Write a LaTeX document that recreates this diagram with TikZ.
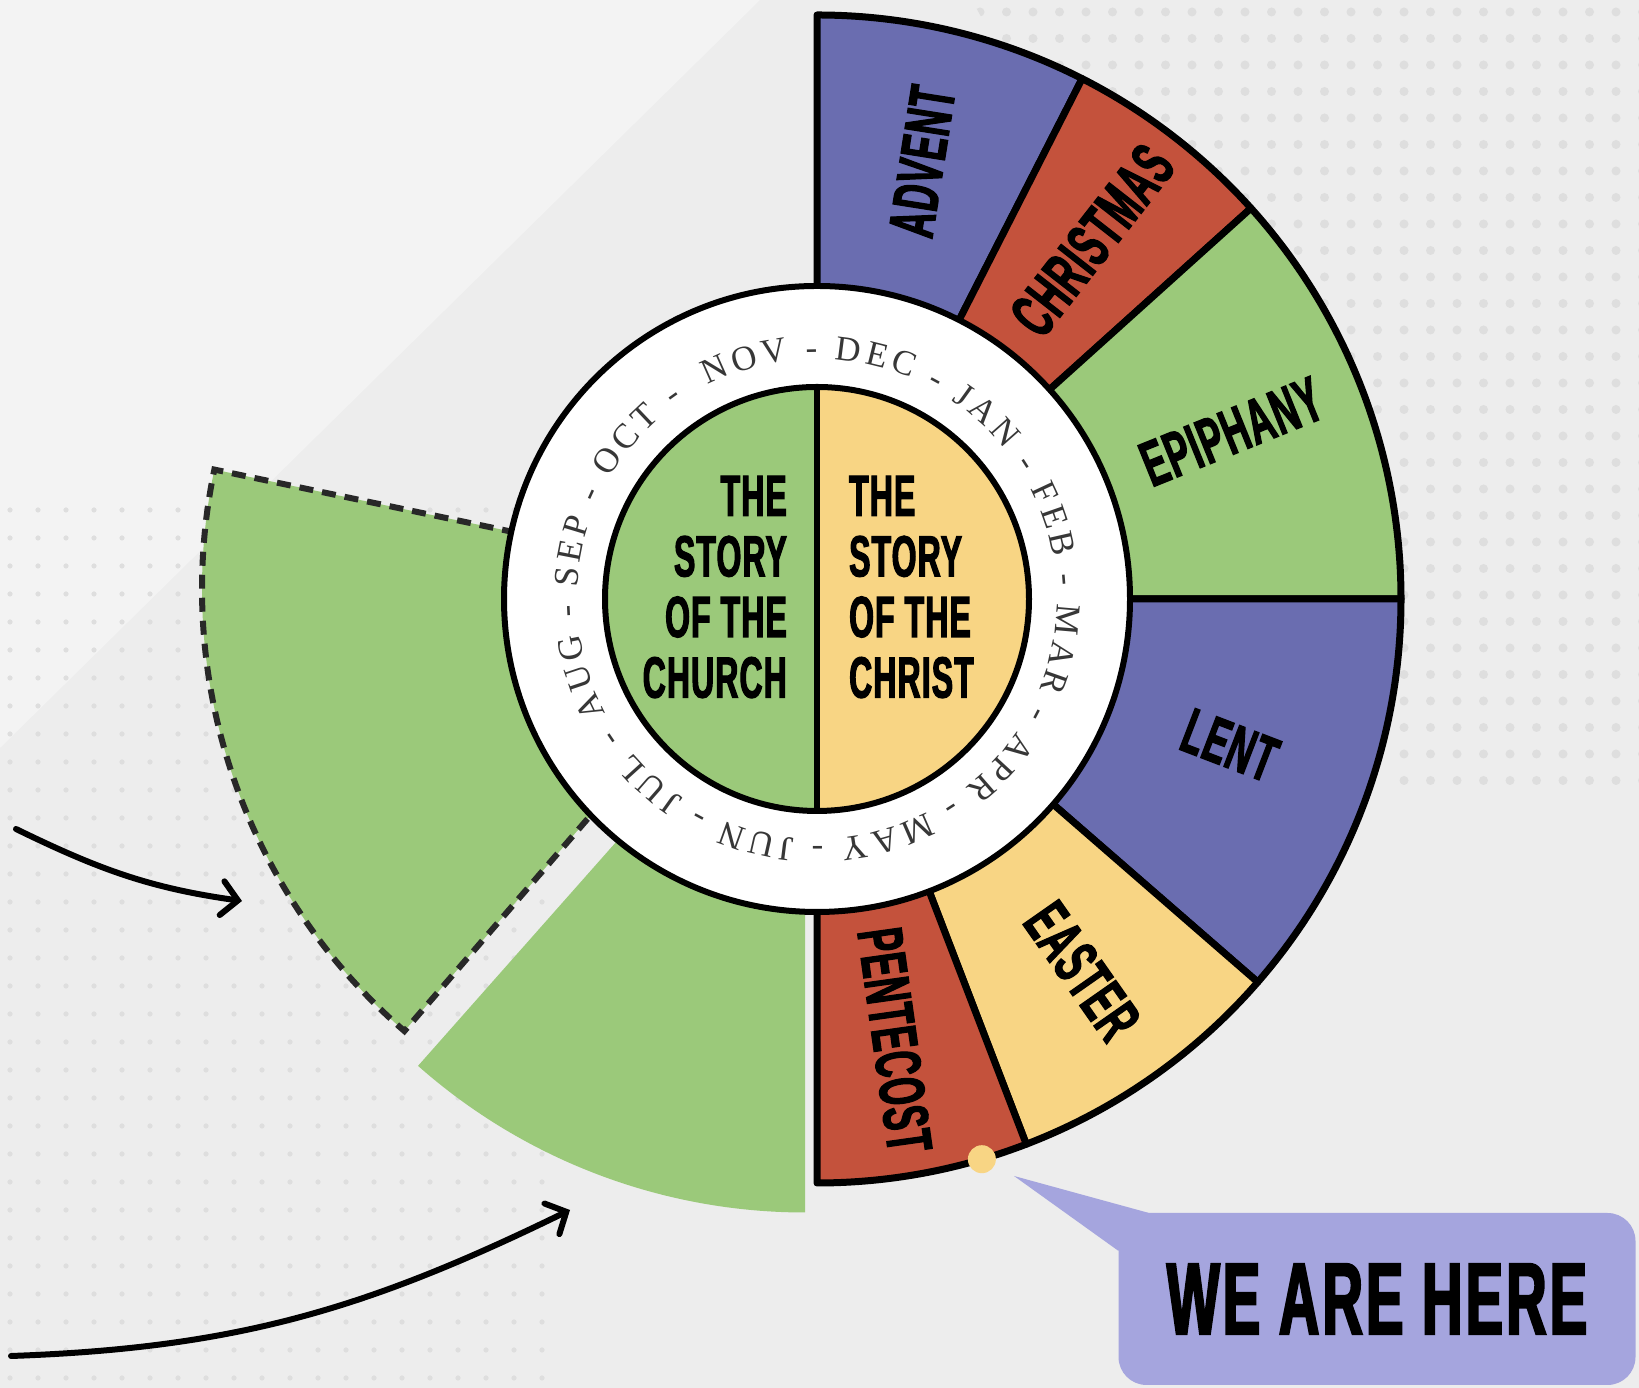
\documentclass[tikz,border=0pt]{standalone}
\usepackage{fontspec}
\usetikzlibrary{arrows.meta, decorations.text}
\newfontfamily\seasonfont[FakeStretch=0.55, FakeBold=2, LetterSpace=2]{Liberation Sans}
\newfontfamily\calloutfont[FakeStretch=0.55, FakeBold=2.2, LetterSpace=3]{Liberation Sans}
\newfontfamily\monthfont{Liberation Serif}
\definecolor{adventpurple}{RGB}{106,109,176}
\definecolor{feastred}{RGB}{196,82,60}
\definecolor{ordgreen}{RGB}{155,201,122}
\definecolor{easteryellow}{RGB}{248,213,132}
\definecolor{bubblelilac}{RGB}{165,165,222}
\definecolor{bggray}{RGB}{237,237,237}
\definecolor{bglight}{RGB}{243,243,243}
\definecolor{dotgray}{RGB}{222,222,222}
\definecolor{dashgray}{RGB}{40,40,40}
\definecolor{monthgray}{RGB}{55,55,55}

\begin{document}
\begin{tikzpicture}[x=1pt, y=1pt,
  season/.style={draw=black, line width=7pt, line join=round},
  seasonlabel/.style={font=\seasonfont\bfseries\fontsize{64}{64}\selectfont, inner sep=0pt},
  storytext/.style={font=\seasonfont\bfseries\fontsize{58}{60.6}\selectfont, inner sep=0pt},
  handarrow/.style={line width=6pt, line cap=round, line join=round,
    -{Straight Barb[length=16pt, width=34pt, line cap=round]}},
  bubble/.style={fill=bubblelilac, rounded corners=28pt, minimum width=517pt, minimum height=172pt,
    font=\calloutfont\bfseries\fontsize{102}{102}\selectfont}
]
  % background
  \fill[bggray] (0,0) rectangle (1639,1388);
  \useasboundingbox (0,0) rectangle (1639,1388);
  \fill[bglight] (0,1388) -- (760,1388) -- (0,640) -- cycle;
  \begin{scope}
    \clip (972,1388) -- (1639,1388) -- (1639,594) -- (1400,594) -- cycle;
    \foreach \i in {0,...,25} \foreach \j in {0,...,30}
      \fill[dotgray] (980+\i*26.5, 1376-\j*26.5) circle[radius=4.5];
  \end{scope}
  \begin{scope}
    \clip (0,0) rectangle (545,880);
    \foreach \i in {0,...,19} \foreach \j in {0,...,31}
      \fill[dotgray] (10+\i*28, 10+\j*28) circle[radius=2.6];
  \end{scope}

  \coordinate (hub) at (817,789);
  \coordinate (pasthub) at (786,799);
  \coordinate (churchhub) at (805,759.5);

  % story of the church, pulled out
  \filldraw[fill=ordgreen, draw=dashgray, line width=6pt, dash pattern=on 14pt off 9pt]
    (pasthub) -- ++(168.2:584) arc[start angle=168.2, end angle=229.2, radius=584] -- cycle;
  \fill[ordgreen] (churchhub) -- ++(228.5:584) arc[start angle=228.5, end angle=270, radius=584] -- cycle;

  % seasons of the christ
  \foreach \a/\b/\c in {90/63/adventpurple, 63/42/feastred, 42/0/ordgreen,
      0/-41/adventpurple, -41/-69/easteryellow, -69/-90/feastred}
    \filldraw[season, fill=\c] (hub) -- ++(\a:584) arc[start angle=\a, end angle=\b, radius=584] -- cycle;

  % month ring
  \filldraw[fill=white, draw=black, line width=6pt] (hub) circle[radius=313];
  \path[decorate, decoration={text along path, text align=fit to path,
      text={|\color{monthgray}\monthfont\fontsize{35}{35}\selectfont|NOV - DEC - JAN - FEB - MAR - APR - MAY - JUN - JUL - AUG - SEP - OCT -}}]
    ([shift={(117:240)}]hub) arc[start angle=117, end angle=-236, radius=240];

  % centre
  \fill[ordgreen] (hub) ++(90:212) arc[start angle=90, end angle=270, radius=212] -- cycle;
  \fill[easteryellow] (hub) ++(-90:212) arc[start angle=-90, end angle=90, radius=212] -- cycle;
  \draw[line width=6pt] (hub) circle[radius=212];
  \draw[line width=6pt] ([yshift=212pt]hub) -- ([yshift=-212pt]hub);
  \node[storytext, anchor=east, align=right] (church) at (787,801) {THE\\STORY\\OF THE\\CHURCH};
  \node[storytext, anchor=west, align=left] (christ) at (849,801) {THE\\STORY\\OF THE\\CHRIST};

  % season names
  \node[seasonlabel, rotate=81] (advent) at ([shift={(76.5:450)}]hub) {ADVENT};
  \node[seasonlabel, rotate=52] (christmas) at ([shift={(52.5:452)}]hub) {CHRISTMAS};
  \node[seasonlabel, rotate=22] (epiphany) at ([shift={(22:447)}]hub) {EPIPHANY};
  \node[seasonlabel, rotate=-21] (lent) at ([shift={(-19.5:438)}]hub) {LENT};
  \node[seasonlabel, rotate=-55] (easter) at ([shift={(-54.5:457)}]hub) {EASTER};
  \node[seasonlabel, rotate=-82] (pentecost) at ([shift={(-80:448)}]hub) {PENTECOST};

  % we are here
  \coordinate (herepin) at ([shift={(-73.6:584)}]hub);
  \coordinate (tailtip) at (1014,212);
  \node[bubble] (here) at (1377,89) {WE ARE HERE};
  \fill[bubblelilac] (tailtip) -- ([xshift=30pt]here.north west) -- ([yshift=-38pt]here.north west) -- cycle;
  \fill[easteryellow] (herepin) circle[radius=14];

  % arrows
  \coordinate (pastfrom) at (16,559);
  \coordinate (pastto) at (242,487);
  \coordinate (nowfrom) at (11,32);
  \coordinate (nowto) at (570,178);
  \draw[handarrow] (pastfrom) to[out=-26, in=172] (pastto);
  \draw[handarrow] (nowfrom) to[out=2, in=206] (nowto);
\end{tikzpicture}
\end{document}
